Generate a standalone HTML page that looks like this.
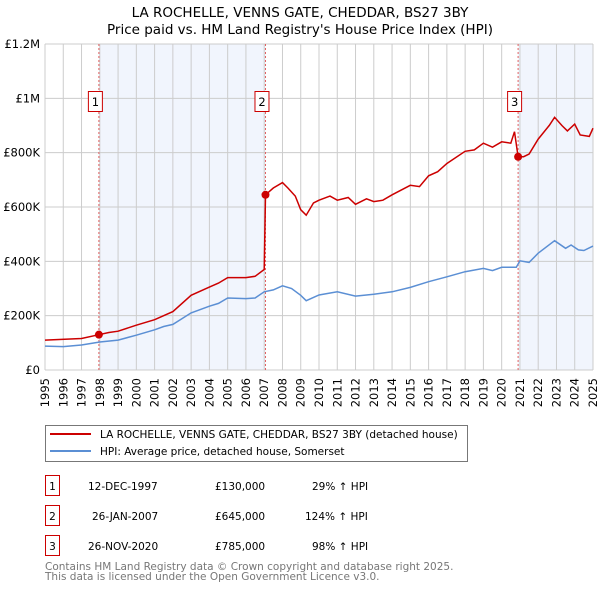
<!DOCTYPE html>
<html><head><meta charset="utf-8"><style>
body{margin:0;background:#fff;width:600px;height:590px;overflow:hidden;font-family:"DejaVu Sans","Liberation Sans",sans-serif}
svg{position:absolute;left:0;top:0}
</style></head><body>
<svg id="c" width="600" height="590" font-family="DejaVu Sans, Liberation Sans, sans-serif">
<text x="300" y="17" text-anchor="middle" font-size="13.5">LA ROCHELLE, VENNS GATE, CHEDDAR, BS27 3BY</text>
<text x="300" y="34" text-anchor="middle" font-size="13.5">Price paid vs. HM Land Registry's House Price Index (HPI)</text>
<g id="grid"></g><g id="marks"></g><g id="axes"></g>
<g>
<rect x="45.5" y="425.5" width="422" height="36" fill="#fff" stroke="#777"/>
<line x1="50" y1="434" x2="91" y2="434" stroke="#cc0000" stroke-width="2"/>
<text x="100" y="438" font-size="10.5">LA ROCHELLE, VENNS GATE, CHEDDAR, BS27 3BY (detached house)</text>
<line x1="50" y1="451" x2="91" y2="451" stroke="#5b8fd4" stroke-width="2"/>
<text x="100" y="455" font-size="10.5">HPI: Average price, detached house, Somerset</text>
</g>
<g font-size="10.5">
<rect x="45.5" y="475.5" width="14" height="20" fill="#fff" stroke="#cc0000"/><text x="52.5" y="490" text-anchor="middle">1</text>
<text x="88" y="490">12-DEC-1997</text><text x="215" y="490">£130,000</text><text x="312" y="490">29% ↑ HPI</text>
<rect x="45.5" y="505.5" width="14" height="20" fill="#fff" stroke="#cc0000"/><text x="52.5" y="520" text-anchor="middle">2</text>
<text x="92" y="520">26-JAN-2007</text><text x="215" y="520">£645,000</text><text x="305" y="520">124% ↑ HPI</text>
<rect x="45.5" y="535.5" width="14" height="20" fill="#fff" stroke="#cc0000"/><text x="52.5" y="550" text-anchor="middle">3</text>
<text x="88" y="550">26-NOV-2020</text><text x="215" y="550">£785,000</text><text x="312" y="550">98% ↑ HPI</text>
</g>
<text x="45" y="570" font-size="10.5" fill="#777">Contains HM Land Registry data © Crown copyright and database right 2025.</text>
<text x="45" y="580" font-size="10.5" fill="#777">This data is licensed under the Open Government Licence v3.0.</text>
</svg>
<script>
const yTicks=[0,200000,400000,600000,800000,1000000,1200000];
const yTickLabels=["£0","£200K","£400K","£600K","£800K","£1M","£1.2M"];
const xYears=[1995,1996,1997,1998,1999,2000,2001,2002,2003,2004,2005,2006,2007,2008,2009,2010,2011,2012,2013,2014,2015,2016,2017,2018,2019,2020,2021,2022,2023,2024,2025];
const hpiT=[1995,1996,1997,1998,1999,2000,2001,2001.5,2002,2003,2004,2004.5,2005,2006,2006.5,2007,2007.5,2008,2008.5,2009,2009.3,2010,2011,2012,2013,2014,2015,2016,2017,2018,2019,2019.5,2020,2020.8,2021,2021.5,2022,2022.9,2023.5,2023.8,2024.2,2024.5,2025];
const hpiV=[88,86,92,103,110,128,148,160,168,210,235,245,265,263,265,288,295,310,300,275,255,276,288,272,279,288,304,325,343,362,374,366,378,378,402,396,430,476,448,460,442,440,456];
const propT=[1995,1997,1997.95,1998.5,1999,2000,2001,2002,2003,2004,2004.5,2005,2006,2006.5,2007.0,2007.07,2007.5,2008,2008.3,2008.7,2009,2009.3,2009.7,2010,2010.6,2011,2011.6,2012,2012.6,2013,2013.5,2014,2015,2015.5,2016,2016.5,2017,2018,2018.5,2019,2019.5,2020,2020.5,2020.7,2020.9,2021.2,2021.5,2022,2022.6,2022.9,2023.3,2023.6,2024,2024.3,2024.8,2025];
const propV=[110,116,130,138,143,165,185,215,275,305,320,340,340,345,370,645,670,690,670,640,590,570,615,625,640,625,635,610,630,620,625,645,680,675,715,730,760,805,810,835,820,840,835,877,785,785,795,850,900,930,900,880,905,865,860,890];
const saleT=[1997.95,2007.07,2020.9];
const saleV=[130,645,785];
const saleLabels=["1","2","3"];
const shadeRanges=[[1997.95,2007.07],[2020.9,2025]];

const X0=45,X1=593,Y0=370,Y1=44;
const xs=t=>X0+(t-1995)/30*(X1-X0);
const ys=v=>Y0-v/1200000*(Y0-Y1);
const NS="http://www.w3.org/2000/svg";
function mk(tag,attrs,parent){const e=document.createElementNS(NS,tag);for(const k in attrs)e.setAttribute(k,attrs[k]);parent.appendChild(e);return e;}
const grid=document.getElementById('grid'),marks=document.getElementById('marks'),axes=document.getElementById('axes');
shadeRanges.forEach(r=>{const e=mk('rect',{x:xs(r[0]),y:Y1,width:xs(r[1])-xs(r[0]),height:Y0-Y1,fill:'#eef2fc',opacity:0.8},grid);

});
xYears.forEach(y=>{const e=mk('line',{x1:xs(y),x2:xs(y),y1:Y1,y2:Y0,stroke:'#ccc','stroke-width':1},grid);


const t=mk('text',{x:0,y:0,'font-size':11.5,'text-anchor':'end',transform:`translate(${xs(y)+4},${Y0+8}) rotate(-90)`},axes);t.textContent=y;

});
yTicks.forEach((v,i)=>{const e=mk('line',{x1:X0,x2:X1,y1:ys(v),y2:ys(v),stroke:'#ccc','stroke-width':1},grid);


const t=mk('text',{x:40,y:ys(v)+4,'font-size':11.5,'text-anchor':'end'},axes);t.textContent=yTickLabels[i];

});
saleT.forEach((t,i)=>{const e=mk('line',{x1:xs(t),x2:xs(t),y1:Y1,y2:Y0,stroke:'#e06060','stroke-width':1,'stroke-dasharray':'2,2'},marks);

});
const hp=mk('path',{d:hpiT.map((t,i)=>(i?'L':'M')+xs(t).toFixed(1)+','+ys(hpiV[i]*1000).toFixed(1)).join(''),fill:'none',stroke:'#5b8fd4','stroke-width':1.5},marks);


const pp=mk('path',{d:propT.map((t,i)=>(i?'L':'M')+xs(t).toFixed(1)+','+ys(propV[i]*1000).toFixed(1)).join(''),fill:'none',stroke:'#cc0000','stroke-width':1.5},marks);


saleT.forEach((t,i)=>{const c=mk('circle',{cx:xs(t),cy:ys(saleV[i]*1000),r:4,fill:'#cc0000'},marks);


const b=mk('rect',{x:xs(t)-10.5,y:91.5,width:14,height:20,fill:'#fff',stroke:'#cc0000'},marks);


const l=mk('text',{x:xs(t)-3.5,y:106,'font-size':11.5,'text-anchor':'middle'},marks);l.textContent=saleLabels[i];

});
</script>
</body></html>
